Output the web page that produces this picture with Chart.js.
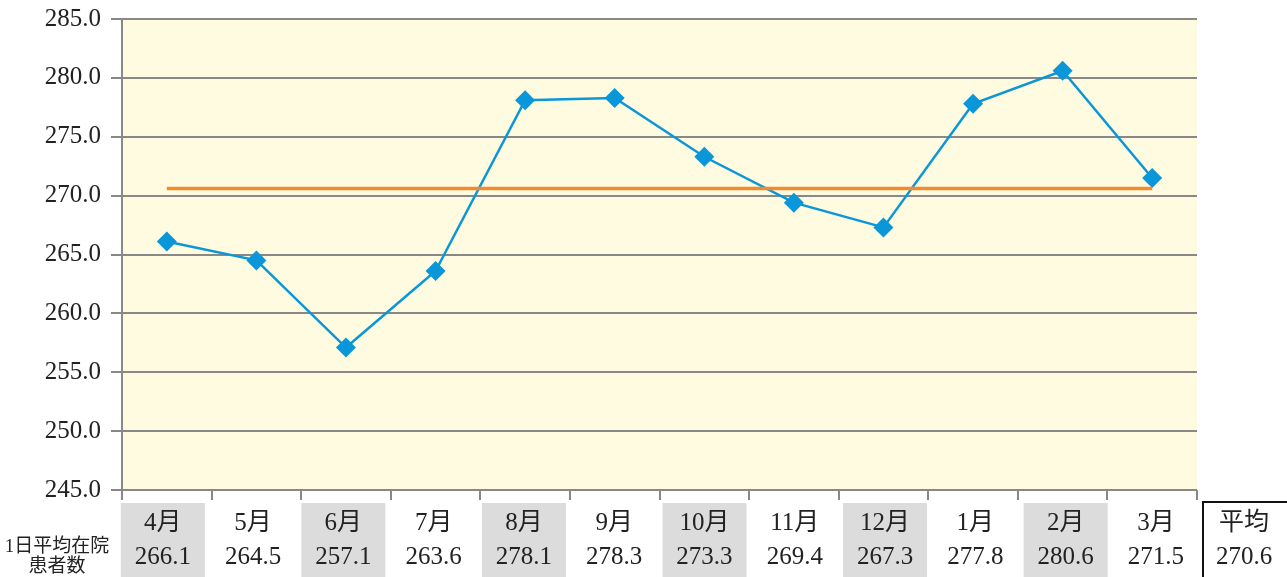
<!DOCTYPE html>
<html lang="ja">
<head>
    <meta charset="UTF-8">
    <title>1日平均在院患者数</title>
    <script src="https://cdn.jsdelivr.net/npm/chart.js"></script>
    <style>
        body { margin: 0; background: #fff; }
        canvas { display: block; }
    </style>
</head>
<body>
    <canvas id="myChart" width="1287" height="577"></canvas>

<script>
// データ
const meses = ['4月', '5月', '6月', '7月', '8月', '9月', '10月', '11月', '12月', '1月', '2月', '3月'];
const pacientes = [266.1, 264.5, 257.1, 263.6, 278.1, 278.3, 273.3, 269.4, 267.3, 277.8, 280.6, 271.5];
const media = 270.6;
const rotuloLinha = ['1日平均在院', '患者数'];
const rotuloMedia = '平均';

const fonte = '"Liberation Serif", "Noto Sans CJK JP", serif';

// fundo amarelo da área do gráfico
const fundoPlugin = {
    id: 'fundo',
    beforeDraw(chart) {
        const { ctx, chartArea: a } = chart;
        ctx.save();
        ctx.fillStyle = '#FFFBE0';
        ctx.fillRect(a.left, a.top, a.right - a.left, a.bottom - a.top);
        ctx.restore();
    }
};

// tabela embaixo do gráfico
const tabelaPlugin = {
    id: 'tabela',
    afterDraw(chart) {
        const ctx = chart.ctx;
        const x = chart.scales.x;
        const topo = 503;
        ctx.save();
        ctx.textAlign = 'center';
        ctx.textBaseline = 'middle';
        meses.forEach((m, i) => {
            const cx = x.getPixelForValue(i) - 4 + i * 0.7;
            if (i % 2 === 0) {
                ctx.fillStyle = '#DCDCDC';
                ctx.fillRect(cx - 42, topo, 84, 577 - topo);
            }
            ctx.fillStyle = '#222';
            ctx.font = '25px ' + fonte;
            ctx.fillText(m, cx, 523);
            ctx.fillText(pacientes[i].toFixed(1), cx, 557);
        });
        // célula da média
        ctx.strokeStyle = '#111';
        ctx.lineWidth = 2;
        ctx.strokeRect(1203, 502, 90, 80);
        ctx.fillStyle = '#222';
        ctx.fillText(rotuloMedia, 1244, 523);
        ctx.fillText(media.toFixed(1), 1244, 557);
        // rótulo da linha
        ctx.font = '19px ' + fonte;
        ctx.fillText(rotuloLinha[0], 57, 547);
        ctx.fillText(rotuloLinha[1], 57, 567);
        ctx.restore();
    }
};

const ctx = document.getElementById('myChart').getContext('2d');
const grafico = new Chart(ctx, {
    type: 'line',
    data: {
        labels: meses,
        datasets: [{
            label: rotuloMedia,
            data: meses.map(() => media),
            borderColor: '#F28A2E',
            borderWidth: 3.5,
            pointRadius: 0,
            fill: false
        }, {
            label: rotuloLinha.join(''),
            data: pacientes,
            borderColor: '#0A97D9',
            backgroundColor: '#0A97D9',
            borderWidth: 2.5,
            pointStyle: 'rectRot',
            pointRadius: 10,
            pointBorderWidth: 0,
            tension: 0,
            fill: false
        }]
    },
    options: {
        responsive: false,
        animation: false,
        layout: { padding: { top: 19, right: 90, left: 0, bottom: 0 } },
        plugins: {
            legend: { display: false },
            tooltip: { enabled: false }
        },
        scales: {
            x: {
                offset: true,
                grid: {
                    offset: true,
                    drawOnChartArea: false,
                    drawTicks: true,
                    tickLength: 10,
                    color: '#888',
                    lineWidth: 2
                },
                border: { display: false },
                ticks: { display: false },
                afterFit(s) { s.height = 87; }
            },
            y: {
                min: 245,
                max: 285,
                ticks: {
                    stepSize: 5,
                    padding: 10,
                    color: '#222',
                    font: { family: fonte, size: 25, lineHeight: 0.6 },
                    callback: v => v.toFixed(1)
                },
                grid: {
                    color: '#888',
                    lineWidth: 2,
                    tickLength: 11
                },
                border: { color: '#888', width: 2 },
                afterFit(s) { s.width = 122; }
            }
        }
    },
    plugins: [fundoPlugin, tabelaPlugin]
});
</script>
</body>
</html>
